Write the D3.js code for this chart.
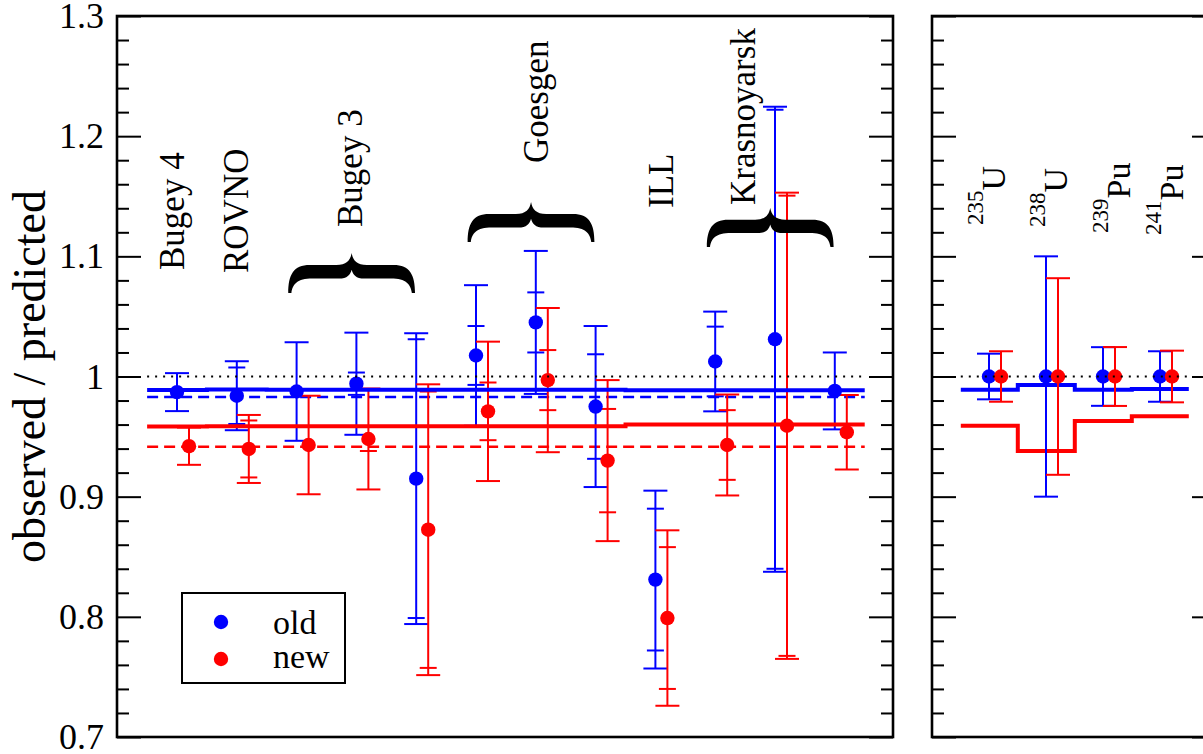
<!DOCTYPE html>
<html><head><meta charset="utf-8">
<script src="https://cdn.jsdelivr.net/npm/d3@7"></script>
<style>
html,body{margin:0;padding:0;background:#fff;overflow:hidden}
svg{display:block}
text{font-family:"Liberation Serif","Times New Roman",serif;fill:#000}
</style>
</head><body>
<svg id="chart" width="1203" height="754"></svg>
<script>
// ---------------- DATA ----------------
const experiments = ["Bugey 4","ROVNO","Bugey 3 a","Bugey 3 b","Bugey 3 c","Goesgen a","Goesgen b","Goesgen c","ILL","Krasnoyarsk a","Krasnoyarsk b","Krasnoyarsk c"];
const oldValues   = [0.987, 0.984, 0.9875, 0.994, 0.915, 1.0175, 1.045, 0.975, 0.831, 1.0125, 1.031, 0.988];
const oldErrOuter = [0.0158, 0.0287, 0.041, 0.0425, 0.121, 0.0585, 0.0595, 0.067, 0.074, 0.0415, 0.1935, 0.032];
const oldErrInner = [null, 0.0235, null, 0.0093, 0.116, 0.0245, 0.025, 0.0435, 0.059, 0.029, 0.191, null];
const newValues   = [0.942, 0.9397, 0.943, 0.948, 0.8725, 0.971, 0.997, 0.930, 0.799, 0.943, 0.959, 0.9536];
const newErrOuter = [0.0155, 0.0283, 0.041, 0.042, 0.121, 0.058, 0.06, 0.067, 0.073, 0.042, 0.194, 0.031];
const newErrInner = [null, 0.0237, null, 0.010, 0.115, 0.024, 0.025, 0.043, 0.059, 0.029, 0.1915, null];
const fitOld = [0.9888, 0.9892, 0.989, 0.989, 0.989, 0.989, 0.989, 0.989, 0.9885, 0.9885, 0.9885, 0.9885];
const fitNew = [0.9583, 0.9587, 0.9585, 0.9585, 0.9585, 0.9585, 0.9585, 0.9585, 0.960, 0.960, 0.960, 0.960];
const avgOld = 0.983;
const avgNew = 0.9415;

const groupLabels = ["Bugey 4", "ROVNO", "Bugey 3", "Goesgen", "ILL", "Krasnoyarsk"];
const braceGroups = [[2, 4], [5, 7], [9, 11]];

const isotopeMass   = ["235", "238", "239", "241"];
const isotopeSymbol = ["U", "U", "Pu", "Pu"];
const isoOld    = [1, 1, 1, 1];
const isoOldErr = [0.019, 0.100, 0.0244, 0.021];
const isoNew    = [1, 1, 1, 1];
const isoNewErr = [0.021, 0.0818, 0.0245, 0.0215];
const isoFitOld = [0.989, 0.993, 0.989, 0.9895];
const isoFitNew = [0.959, 0.938, 0.963, 0.967];

const yMajorTicks = [0.7, 0.8, 0.9, 1.0, 1.1, 1.2, 1.3];
const yTickLabels = ["0.7", "0.8", "0.9", "1", "1.1", "1.2", "1.3"];
const yMinorTicks = d3.range(35, 66).filter(k => k % 5 !== 0).map(k => k / 50);
const yLabel = "observed / predicted";
const legendLabels = ["old", "new"];

// ---------------- LAYOUT / STYLE ----------------
const BLUE = "#0000ff", RED = "#ff0000";
const TOP = 16, BOTTOM = 737;
const L = {x0: 117, x1: 893};
const R = {x0: 932, x1: 1216};
const DODGE = 6;
const labelLayout = [ // baseline x, start y (rotated text)
  {x: 184, y: 270}, {x: 248, y: 273}, {x: 362, y: 227},
  {x: 548, y: 163}, {x: 673, y: 208}, {x: 755, y: 205}];
const braceLayout = [{top: 253, bot: 293}, {top: 202, bot: 242}, {top: 208, bot: 247}];
const isoLabelLayout = [{x: 1005, y: 225}, {x: 1067, y: 227}, {x: 1130, y: 233}, {x: 1183, y: 235}];

const svg = d3.select("#chart");
svg.append("rect").attr("width", 1203).attr("height", 754).attr("fill", "#fff");

const y  = d3.scaleLinear().domain([0.7, 1.3]).range([BOTTOM, TOP]);
const xL = d3.scaleLinear().domain([0, 11]).range([183, 840.8]);
const xR = d3.scaleLinear().domain([0, 3]).range([995, 1166]);

// ---------- axes / ticks ----------
function styleAxis(g) {
  g.select(".domain").remove();
  g.selectAll(".tick line").attr("stroke", "#000").attr("stroke-width", 2);
  g.selectAll(".tick text").style("font-family", '"Liberation Serif","Times New Roman",serif')
    .style("font-size", "36px").attr("fill", "#000");
}
function sideTicks(xpos, left, labels) {
  const mk = left ? d3.axisLeft : d3.axisRight;
  const major = mk(y).tickValues(yMajorTicks).tickSizeInner(-24).tickSizeOuter(0).tickPadding(13)
    .tickFormat(labels ? ((d, i) => yTickLabels[i]) : "");
  svg.append("g").attr("transform", `translate(${xpos},0)`).call(major).call(styleAxis);
  const minor = mk(y).tickValues(yMinorTicks).tickSizeInner(-12).tickSizeOuter(0).tickFormat("");
  svg.append("g").attr("transform", `translate(${xpos},0)`).call(minor).call(styleAxis);
}
sideTicks(L.x0, true, true);
sideTicks(L.x1, false, false);
sideTicks(R.x0, true, false);
sideTicks(R.x1, false, false);

// frames
[L, R].forEach(p => svg.append("rect").attr("x", p.x0).attr("y", TOP)
  .attr("width", p.x1 - p.x0).attr("height", BOTTOM - TOP)
  .attr("fill", "none").attr("stroke", "#000").attr("stroke-width", 2.6));

// y label
svg.append("text").attr("transform", `translate(45,${(TOP + BOTTOM) / 2}) rotate(-90)`)
  .attr("text-anchor", "middle").style("font-size", "46px").text(yLabel);

// ---------- helpers ----------
const lineGen = d3.line().x(d => d[0]).y(d => y(d[1]));
function stepPoints(vals, xs) {
  const pts = [];
  vals.forEach((v, i) => { pts.push([xs(i - 0.6), v]); pts.push([xs(i + 0.4), v]); });
  return pts;
}
function errorBars(g, xs, vals, outer, inner, color, dx) {
  vals.forEach((v, i) => {
    const cx = xs(i) + dx;
    g.append("line").attr("x1", cx).attr("x2", cx).attr("y1", y(v - outer[i])).attr("y2", y(v + outer[i]))
      .attr("stroke", color).attr("stroke-width", 2);
    [v - outer[i], v + outer[i]].forEach(e => g.append("line").attr("x1", cx - 12).attr("x2", cx + 12)
      .attr("y1", y(e)).attr("y2", y(e)).attr("stroke", color).attr("stroke-width", 2));
    if (inner && inner[i] != null) {
      [v - inner[i], v + inner[i]].forEach(e => g.append("line").attr("x1", cx - 8.5).attr("x2", cx + 8.5)
        .attr("y1", y(e)).attr("y2", y(e)).attr("stroke", color).attr("stroke-width", 2));
    }
  });
}
function dots(g, xs, vals, color, dx) {
  g.selectAll(null).data(vals).enter().append("circle")
    .attr("cx", (d, i) => xs(i) + dx).attr("cy", d => y(d)).attr("r", 7.2).attr("fill", color);
}

// ---------- left panel ----------
const gl = svg.append("g");
const n = oldValues.length;
gl.append("path").attr("d", lineGen([[xL(-0.6), avgOld], [xL(n - 1 + 0.4), avgOld]]))
  .attr("stroke", BLUE).attr("stroke-width", 2.4).attr("stroke-dasharray", "11,6").attr("fill", "none");
gl.append("path").attr("d", lineGen([[xL(-0.6), avgNew], [xL(n - 1 + 0.4), avgNew]]))
  .attr("stroke", RED).attr("stroke-width", 2.4).attr("stroke-dasharray", "11,6").attr("fill", "none");
errorBars(gl, xL, oldValues, oldErrOuter, oldErrInner, BLUE, -DODGE);
errorBars(gl, xL, newValues, newErrOuter, newErrInner, RED, DODGE);
gl.append("path").attr("d", lineGen(stepPoints(fitOld, xL))).attr("stroke", BLUE).attr("stroke-width", 4).attr("fill", "none");
gl.append("path").attr("d", lineGen(stepPoints(fitNew, xL))).attr("stroke", RED).attr("stroke-width", 4).attr("fill", "none");
dots(gl, xL, oldValues, BLUE, -DODGE);
dots(gl, xL, newValues, RED, DODGE);
gl.append("path").attr("d", lineGen([[xL(-0.6), 1], [xL(n - 1 + 0.4), 1]]))
  .attr("stroke", "#000").attr("stroke-width", 2).attr("stroke-dasharray", "2,6").attr("fill", "none");

// experiment labels
groupLabels.forEach((t, i) => {
  svg.append("text").attr("transform", `translate(${labelLayout[i].x},${labelLayout[i].y}) rotate(-90)`)
    .style("font-size", "35px").text(t);
});
// braces
function bracePath(x0, x1, yt, yb) {
  const w = x1 - x0, h = yb - yt;
  const p = (fx, fy) => `${x0 + fx * w},${yt + fy * h}`;
  return `M${p(0, 1)} C${p(0, 0.55)} ${p(0.04, 0.3)} ${p(0.17, 0.3)} L${p(0.38, 0.3)} ` +
    `C${p(0.46, 0.3)} ${p(0.49, 0.18)} ${p(0.5, 0)} C${p(0.51, 0.18)} ${p(0.54, 0.3)} ${p(0.62, 0.3)} ` +
    `L${p(0.83, 0.3)} C${p(0.96, 0.3)} ${p(1, 0.55)} ${p(1, 1)} L${p(0.975, 1)} ` +
    `C${p(0.965, 0.78)} ${p(0.93, 0.64)} ${p(0.81, 0.64)} L${p(0.6, 0.64)} ` +
    `C${p(0.535, 0.64)} ${p(0.51, 0.55)} ${p(0.5, 0.42)} C${p(0.49, 0.55)} ${p(0.465, 0.64)} ${p(0.4, 0.64)} ` +
    `L${p(0.19, 0.64)} C${p(0.07, 0.64)} ${p(0.035, 0.78)} ${p(0.025, 1)} Z`;
}
braceGroups.forEach((gr, i) => {
  svg.append("path").attr("d", bracePath(xL(gr[0] - 0.24), xL(gr[1] - 0.12), braceLayout[i].top, braceLayout[i].bot))
    .attr("fill", "#000");
});

// legend
const lg = svg.append("g");
lg.append("rect").attr("x", 182).attr("y", 593).attr("width", 163).attr("height", 90)
  .attr("fill", "#fff").attr("stroke", "#000").attr("stroke-width", 2);
[BLUE, RED].forEach((c, i) => {
  lg.append("circle").attr("cx", 221).attr("cy", 622 + i * 37).attr("r", 7.2).attr("fill", c);
  lg.append("text").attr("x", 273).attr("y", 634 + i * 34).style("font-size", "34px").text(legendLabels[i]);
});

// ---------- right panel ----------
const gr = svg.append("g");
gr.append("path").attr("d", lineGen(stepPoints(isoFitOld, xR)))
  .attr("stroke", BLUE).attr("stroke-width", 4).attr("fill", "none");
gr.append("path").attr("d", lineGen(stepPoints(isoFitNew, xR)))
  .attr("stroke", RED).attr("stroke-width", 4).attr("fill", "none");
errorBars(gr, xR, isoOld, isoOldErr, null, BLUE, -DODGE);
errorBars(gr, xR, isoNew, isoNewErr, null, RED, DODGE);
dots(gr, xR, isoOld, BLUE, -DODGE);
dots(gr, xR, isoNew, RED, DODGE);
gr.append("path").attr("d", lineGen([[xR(-0.6), 1], [xR(3.4), 1]]))
  .attr("stroke", "#000").attr("stroke-width", 2).attr("stroke-dasharray", "2,6").attr("fill", "none");

isotopeMass.forEach((m, i) => {
  const t = svg.append("text").attr("transform", `translate(${isoLabelLayout[i].x},${isoLabelLayout[i].y}) rotate(-90)`);
  t.append("tspan").style("font-size", "23px").attr("dy", -22).text(m);
  t.append("tspan").style("font-size", "34px").attr("dy", 22).text(isotopeSymbol[i]);
});
</script>
</body></html>
